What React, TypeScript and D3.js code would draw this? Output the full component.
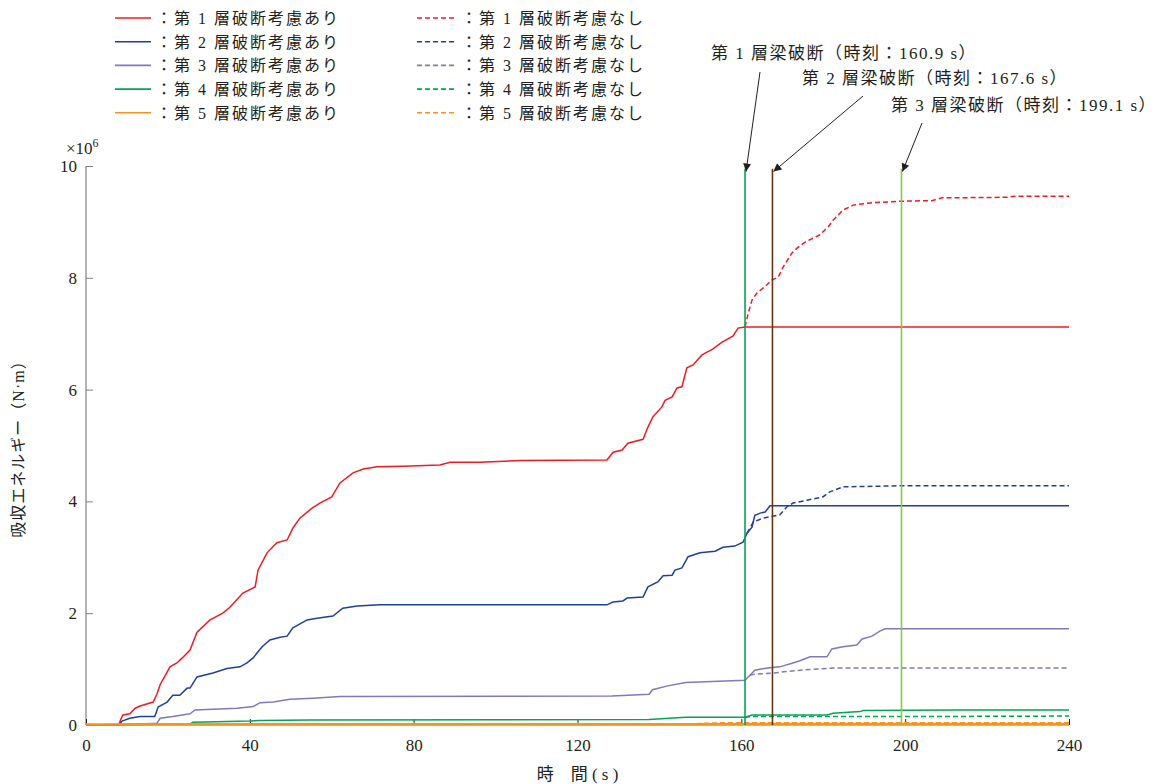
import { useEffect, useRef } from 'react';
import * as d3 from 'd3';

type Pt = [number, number];

// time (s), absorbed energy (x10^6 N·m)
const layer1Break: Pt[] = [[0,0],[8,0],[8.5,0.1],[9,0.18],[10.7,0.2],[12,0.3],[13.2,0.34],[16.4,0.41],[17.3,0.55],[18.1,0.72],[20.5,1.04],[22.2,1.11],[23.5,1.2],[25.4,1.34],[27.1,1.66],[30.3,1.88],[33.4,2.0],[35.2,2.11],[38.3,2.36],[41.3,2.47],[42,2.77],[44.2,3.08],[46.6,3.26],[49.1,3.31],[50.5,3.52],[52.2,3.7],[55.2,3.88],[57.1,3.97],[60,4.08],[62,4.33],[65.2,4.51],[67.7,4.58],[71,4.62],[77.4,4.63],[86.4,4.65],[88.9,4.7],[96.2,4.7],[106,4.73],[127.2,4.74],[128.7,4.88],[130.9,4.92],[132.3,5.04],[136,5.11],[137.2,5.33],[138.4,5.51],[140.6,5.69],[141.4,5.81],[143.1,5.87],[144.3,6.03],[145.5,6.05],[146.7,6.39],[148.2,6.44],[150.4,6.62],[153.1,6.73],[155.3,6.85],[158,6.96],[159.2,7.1],[160.9,7.12],[240,7.12]];
const layer1NoBreak: Pt[] = [[160.9,7.12],[161.7,7.37],[162.6,7.6],[163.8,7.73],[166.2,7.87],[167.4,7.96],[169,8.01],[170.2,8.19],[172.3,8.44],[173.9,8.55],[175.6,8.64],[179.2,8.77],[181.2,8.91],[182.4,9.03],[184.8,9.21],[187.3,9.3],[191.4,9.34],[198.7,9.37],[206.5,9.38],[209,9.43],[224.9,9.44],[226.8,9.46],[240,9.46]];

const layer2Break: Pt[] = [[0,0],[8,0],[8.8,0.07],[10.7,0.12],[13.2,0.15],[16.8,0.15],[17.6,0.32],[19.8,0.41],[21.2,0.53],[22.9,0.53],[24.7,0.66],[25.4,0.66],[27.1,0.86],[31,0.93],[34.4,1.01],[37.6,1.04],[39.3,1.11],[40.8,1.2],[43,1.4],[44.9,1.52],[47.4,1.57],[49.1,1.59],[50.5,1.74],[54,1.88],[56.4,1.91],[60.3,1.95],[62.7,2.09],[66.2,2.13],[71.8,2.15],[127.2,2.15],[128.7,2.2],[131.1,2.22],[132.1,2.27],[136,2.29],[137.2,2.47],[139.6,2.56],[140.9,2.67],[143.1,2.68],[143.8,2.77],[145.5,2.81],[147,3.01],[149.9,3.08],[153.6,3.11],[155.5,3.18],[158.4,3.2],[160.4,3.27],[161.4,3.43],[162.6,3.54],[163.3,3.75],[164.6,3.79],[165.8,3.81],[167,3.92],[240,3.92]];
const layer2NoBreak: Pt[] = [[161.4,3.43],[162.9,3.63],[165.3,3.7],[169.4,3.76],[171.1,3.9],[172.6,3.97],[176,4.02],[179.9,4.08],[181.6,4.17],[184.8,4.26],[198.7,4.28],[240,4.28]];

const layer3Break: Pt[] = [[0,0],[8,0],[17.3,0.03],[18.1,0.12],[21.2,0.15],[25.4,0.2],[26.6,0.27],[31,0.28],[36.9,0.3],[40.8,0.33],[42.5,0.4],[45.7,0.41],[49.8,0.46],[55.4,0.48],[62,0.51],[128.4,0.52],[137.5,0.55],[138.3,0.63],[142,0.7],[146.4,0.76],[160.9,0.8],[162.1,0.89],[163.3,0.98],[166.3,1.02],[169.4,1.04],[172.6,1.11],[174.3,1.15],[176.8,1.22],[180.9,1.22],[182.1,1.36],[184.8,1.4],[188.2,1.43],[189.5,1.54],[191.9,1.59],[193.8,1.68],[195.1,1.72],[240,1.72]];
const layer3NoBreak: Pt[] = [[162.1,0.89],[163.3,0.91],[167.7,0.93],[174.3,0.98],[182.4,1.02],[240,1.02]];

const layer4Break: Pt[] = [[0,0],[8,0.01],[25.5,0.02],[26.1,0.05],[40,0.07],[42.5,0.08],[54.7,0.09],[137.5,0.1],[146.4,0.14],[160.9,0.14],[162.6,0.18],[180.9,0.18],[182.4,0.21],[189,0.24],[189.7,0.26],[211.7,0.27],[240,0.27]];
const layer4NoBreak: Pt[] = [[160.9,0.14],[162.6,0.15],[199,0.15],[240,0.16]];

const layer5Break: Pt[] = [[0,0.01],[147,0.015],[240,0.02]];
const layer5NoBreak: Pt[] = [[147,0.015],[155,0.035],[240,0.035]];

const layerColors = ['#ed1c24', '#21409a', '#8477bd', '#00a651', '#f7941d'];
const breakSeries = [layer1Break, layer2Break, layer3Break, layer4Break, layer5Break];
const noBreakSeries = [layer1NoBreak, layer2NoBreak, layer3NoBreak, layer4NoBreak, layer5NoBreak];

const fractureTimes = [160.9, 167.6, 199.1];
const fractureColors = ['#00a651', '#603913', '#8dc63f'];
const fractureLabels = ['第 1 層梁破断（時刻：160.9 s）', '第 2 層梁破断（時刻：167.6 s）', '第 3 層梁破断（時刻：199.1 s）'];

const xTicks = [0, 40, 80, 120, 160, 200, 240];
const yTicks = [0, 2, 4, 6, 8, 10];

const FONT = 'Liberation Serif, Noto Sans CJK JP, serif';

const App = () => {
  const svgRef = useRef<SVGSVGElement>(null);

  useEffect(() => {
    if (!svgRef.current) return;
    const svg = d3.select(svgRef.current);
    svg.selectAll('*').remove();

    const x = d3.scaleLinear().domain([0, 240]).range([86, 1069]);
    const y = d3.scaleLinear().domain([0, 10]).range([725, 166]);

    const defs = svg.append('defs');
    defs.append('marker')
      .attr('id', 'arrow')
      .attr('viewBox', '0 0 10 10')
      .attr('refX', 10).attr('refY', 5)
      .attr('markerWidth', 14).attr('markerHeight', 8)
      .attr('markerUnits', 'userSpaceOnUse')
      .attr('orient', 'auto')
      .append('path').attr('d', 'M0,0 L10,5 L0,10 Z').attr('fill', '#231f20');

    const line = d3.line<Pt>().x(d => x(d[0])).y(d => y(d[1]));

    // axes
    svg.append('line').attr('x1', 86).attr('x2', 86).attr('y1', y(10)).attr('y2', y(0))
      .attr('stroke', '#808080').attr('stroke-width', 1.2);
    svg.append('line').attr('x1', 86).attr('x2', x(240)).attr('y1', y(0)).attr('y2', y(0))
      .attr('stroke', '#808080').attr('stroke-width', 1.2);

    const xAxis = svg.append('g')
      .attr('transform', `translate(0,${y(0)})`)
      .call(d3.axisBottom(x).tickValues(xTicks).tickSizeInner(-6).tickSizeOuter(0).tickPadding(14));
    xAxis.select('.domain').remove();
    xAxis.selectAll('line').attr('stroke', '#231f20');
    xAxis.selectAll('text').attr('fill', '#231f20').attr('font-size', 17).attr('font-family', FONT);

    const yAxis = svg.append('g')
      .attr('transform', 'translate(86,0)')
      .call(d3.axisLeft(y).tickValues(yTicks).tickSizeInner(-7).tickSizeOuter(0).tickPadding(9));
    yAxis.select('.domain').remove();
    yAxis.selectAll('line').attr('stroke', '#808080');
    yAxis.selectAll('text').attr('fill', '#231f20').attr('font-size', 17).attr('font-family', FONT);

    const mult = svg.append('text').attr('x', 66).attr('y', 154)
      .attr('fill', '#231f20').attr('font-size', 17).attr('font-family', FONT);
    mult.append('tspan').text('×10');
    mult.append('tspan').attr('dy', -7).attr('font-size', 12).text('6');

    // curves
    const curves = svg.append('g').attr('fill', 'none').attr('stroke-width', 1.5);
    noBreakSeries.forEach((s, i) => {
      curves.append('path').attr('d', line(s)).attr('stroke', layerColors[i])
        .attr('stroke-dasharray', '5,3').attr('stroke-width', i === 4 ? 2 : 1.5);
    });
    breakSeries.forEach((s, i) => {
      curves.append('path').attr('d', line(s)).attr('stroke', layerColors[i])
        .attr('stroke-width', i === 4 ? 2.5 : 1.5);
    });

    // fracture lines
    fractureTimes.forEach((t, i) => {
      svg.append('line').attr('x1', x(t)).attr('x2', x(t)).attr('y1', y(9.95)).attr('y2', y(0))
        .attr('stroke', fractureColors[i]).attr('stroke-width', 1.6);
    });

    // annotations
    const labelPos = [[711, 59], [802, 84], [891, 111]];
    const arrowStart = [[760, 72], [863, 96], [922, 123]];
    fractureLabels.forEach((txt, i) => {
      svg.append('text').attr('x', labelPos[i][0]).attr('y', labelPos[i][1])
        .attr('fill', '#231f20').attr('font-size', 17).attr('letter-spacing', 1.5)
        .attr('font-family', FONT).text(txt);
      svg.append('line')
        .attr('x1', arrowStart[i][0]).attr('y1', arrowStart[i][1])
        .attr('x2', x(fractureTimes[i]) + 1).attr('y2', y(9.9))
        .attr('stroke', '#231f20').attr('stroke-width', 1).attr('marker-end', 'url(#arrow)');
    });

    // legend
    const legend = svg.append('g').attr('font-family', FONT).attr('font-size', 16);
    layerColors.forEach((c, i) => {
      const ly = 18 + i * 23.7;
      legend.append('line').attr('x1', 115).attr('x2', 151).attr('y1', ly).attr('y2', ly)
        .attr('stroke', c).attr('stroke-width', 1.6);
      legend.append('text').attr('x', 156).attr('y', ly + 6).attr('fill', '#231f20')
        .attr('letter-spacing', 2).text(`：第 ${i + 1} 層破断考慮あり`);
      legend.append('line').attr('x1', 417).attr('x2', 456).attr('y1', ly).attr('y2', ly)
        .attr('stroke', c).attr('stroke-width', 1.6).attr('stroke-dasharray', '5,3');
      legend.append('text').attr('x', 461).attr('y', ly + 6).attr('fill', '#231f20')
        .attr('letter-spacing', 2).text(`：第 ${i + 1} 層破断考慮なし`);
    });

    // axis titles
    svg.append('text').attr('x', x(120)).attr('y', 780).attr('text-anchor', 'middle')
      .attr('fill', '#231f20').attr('font-size', 17).attr('font-family', FONT)
      .text('時　間 ( s )');
    svg.append('text').attr('transform', 'translate(24,445) rotate(-90)').attr('text-anchor', 'middle')
      .attr('fill', '#231f20').attr('font-size', 16).attr('letter-spacing', 1)
      .attr('font-family', FONT).text('吸収エネルギー（N·m）');
  }, []);

  return (
    <svg ref={svgRef} width={1156} height={784}
      style={{ position: 'absolute', left: 0, top: 0, background: '#fff' }} />
  );
};

export default App;
